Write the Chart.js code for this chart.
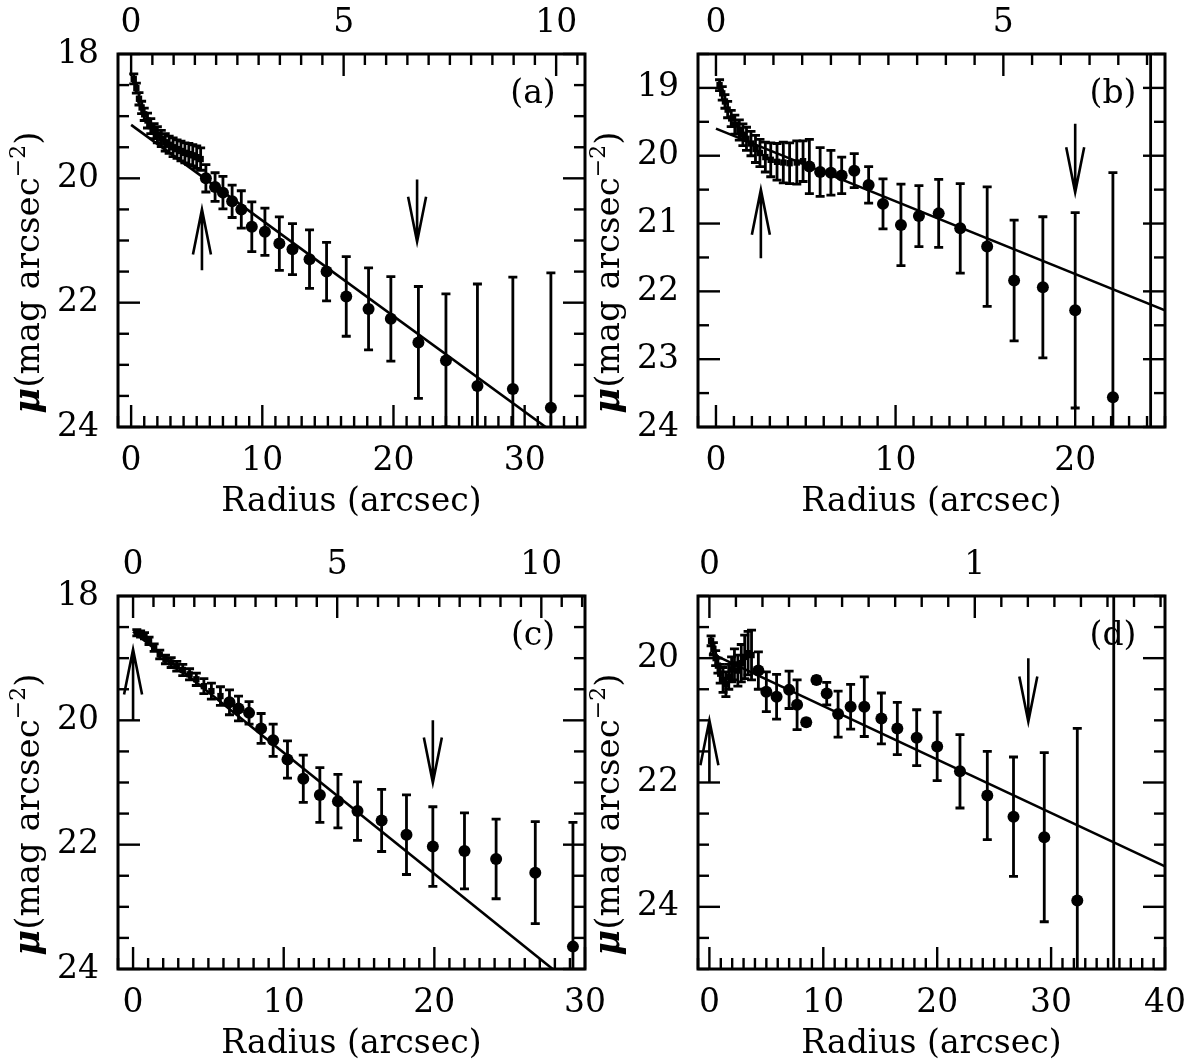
<!DOCTYPE html>
<html>
<head>
<meta charset="utf-8">
<title>Surface brightness profiles</title>
<script src="https://cdn.jsdelivr.net/npm/chart.js@4.4.0/dist/chart.umd.min.js"></script>
<style>
    html, body { margin: 0; padding: 0; background: #fff; width: 1189px; height: 1062px; overflow: hidden; }
    .panel { position: absolute; width: 610px; height: 531px; }
</style>
</head>
<body>
<div class="panel" style="left:0;top:0"><canvas id="panelA" width="610" height="531"></canvas></div>
<div class="panel" style="left:580px;top:0"><canvas id="panelB" width="610" height="531"></canvas></div>
<div class="panel" style="left:0;top:542px"><canvas id="panelC" width="610" height="531"></canvas></div>
<div class="panel" style="left:580px;top:542px"><canvas id="panelD" width="610" height="531"></canvas></div>
<script>
// ── panel (a) ────────────────────────────────────────────────────────────────
const radiusA = [0.2, 0.4, 0.6, 0.8, 1.0, 1.25, 1.5, 1.75, 2.0, 2.3, 2.6, 2.9, 3.2, 3.5, 3.8, 4.1, 4.4, 4.7, 5.0, 5.3,
    5.7, 6.4, 7.0, 7.7, 8.4, 9.2, 10.2, 11.3, 12.3, 13.6, 14.9, 16.4, 18.1, 19.8, 21.9, 24.0, 26.4, 29.1, 32.0];
const muA = [18.40, 18.55, 18.72, 18.86, 18.97, 19.07, 19.16, 19.24, 19.30, 19.36, 19.42, 19.46, 19.50, 19.53, 19.56, 19.59, 19.61, 19.63, 19.66, 19.69,
    20.00, 20.14, 20.23, 20.37, 20.50, 20.78, 20.86, 21.05, 21.14, 21.30, 21.50, 21.90, 22.10, 22.26, 22.64, 22.93, 23.34, 23.39, 23.69];
const errA = [0.08, 0.08, 0.10, 0.10, 0.10, 0.12, 0.12, 0.12, 0.13, 0.13, 0.14, 0.14, 0.15, 0.15, 0.16, 0.16, 0.17, 0.17, 0.18, 0.18,
    0.22, 0.23, 0.26, 0.26, 0.30, 0.40, 0.38, 0.43, 0.41, 0.47, 0.47, 0.64, 0.66, 0.68, 0.90, 1.07, 1.64, 1.80, 2.17];
const fitRadiusA = [0, 31.6];
const fitMuA = [19.14, 24.0];
const arrowsA = [[5.4, 21.48, 20.5], [21.8, 20.02, 21.02]];   // radius, tail, tip
const xTicksA = [0, 10, 20, 30];
const kpcTicksA = [0, 5, 10];
const yTicksA = [18, 20, 22, 24];

// ── panel (b) ────────────────────────────────────────────────────────────────
const radiusB = [0.2, 0.35, 0.5, 0.65, 0.85, 1.05, 1.3, 1.5, 1.7, 1.95, 2.2, 2.45, 2.75, 3.05, 3.4, 3.75, 4.1, 4.5, 4.85,
    5.2, 5.8, 6.4, 7.0, 7.7, 8.5, 9.3, 10.3, 11.3, 12.4, 13.6, 15.1, 16.6, 18.2, 20.0, 22.1, 24.2];
const muB = [18.96, 19.08, 19.20, 19.32, 19.45, 19.54, 19.62, 19.69, 19.75, 19.82, 19.90, 19.96, 20.02, 20.06, 20.09, 20.10, 20.11, 20.10, 20.08,
    20.16, 20.24, 20.25, 20.29, 20.22, 20.43, 20.71, 21.02, 20.89, 20.85, 21.07, 21.34, 21.84, 21.94, 22.28, 23.56, 25.2];
const errB = [0.08, 0.10, 0.10, 0.12, 0.12, 0.14, 0.15, 0.16, 0.17, 0.18, 0.20, 0.20, 0.22, 0.25, 0.27, 0.30, 0.30, 0.32, 0.30,
    0.40, 0.36, 0.33, 0.27, 0.25, 0.27, 0.37, 0.60, 0.45, 0.50, 0.66, 0.88, 0.89, 1.04, 1.44, 3.31, 7.0];
const fitRadiusB = [0, 25];
const fitMuB = [19.6, 22.28];
const arrowsB = [[2.5, 21.51, 20.5], [20.0, 19.53, 20.54]];
const xTicksB = [0, 10, 20];
const kpcTicksB = [0, 5];
const yTicksB = [19, 20, 21, 22, 23, 24];

// ── panel (c) ────────────────────────────────────────────────────────────────
const radiusC = [0.25, 0.5, 0.76, 1.06, 1.4, 1.77, 2.15, 2.53, 2.9, 3.3, 3.75, 4.2, 4.7, 5.2, 5.8,
    6.4, 7.0, 7.7, 8.5, 9.3, 10.25, 11.3, 12.4, 13.6, 14.9, 16.5, 18.15, 19.9, 22.0, 24.1, 26.7, 29.2];
const muC = [18.59, 18.61, 18.64, 18.72, 18.83, 18.94, 19.02, 19.07, 19.13, 19.19, 19.26, 19.34, 19.45, 19.53, 19.61,
    19.71, 19.81, 19.88, 20.13, 20.32, 20.63, 20.94, 21.20, 21.30, 21.46, 21.61, 21.84, 22.03, 22.10, 22.23, 22.45, 23.64];
const errC = [0.05, 0.05, 0.05, 0.06, 0.06, 0.07, 0.07, 0.08, 0.08, 0.09, 0.09, 0.10, 0.12, 0.13, 0.15,
    0.20, 0.20, 0.18, 0.24, 0.26, 0.30, 0.38, 0.44, 0.43, 0.47, 0.50, 0.64, 0.64, 0.61, 0.64, 0.82, 2.00];
const fitRadiusC = [0, 27.85];
const fitMuC = [18.57, 24.0];
const arrowsC = [[0.0, 20.0, 18.86], [19.9, 20.0, 21.0]];
const xTicksC = [0, 10, 20, 30];
const kpcTicksC = [0, 5, 10];
const yTicksC = [18, 20, 22, 24];

// ── panel (d) ────────────────────────────────────────────────────────────────
const radiusD = [0.15, 0.35, 0.55, 0.75, 0.95, 1.2, 1.45, 1.7, 1.95, 2.2, 2.5, 2.8, 3.1, 3.4, 3.7,
    4.3, 5.0, 5.9, 7.0, 7.7, 8.5, 9.4, 10.3, 11.3, 12.4, 13.6, 15.1, 16.5, 18.2, 20.0, 22.0, 24.4, 26.7, 29.4, 32.3, 35.5];
const muD = [19.72, 19.85, 20.00, 20.12, 20.25, 20.35, 20.42, 20.30, 20.18, 20.10, 20.20, 20.08, 19.98, 19.92, 19.95,
    20.20, 20.54, 20.62, 20.51, 20.75, 21.03, 20.35, 20.57, 20.90, 20.78, 20.78, 20.97, 21.13, 21.28, 21.42, 21.82, 22.21, 22.55, 22.88, 23.90, 26.0];
const errD = [0.08, 0.10, 0.12, 0.12, 0.15, 0.20, 0.20, 0.20, 0.20, 0.25, 0.25, 0.30, 0.35, 0.35, 0.40,
    0.30, 0.32, 0.36, 0.30, 0.40, 0.05, 0.05, 0.18, 0.37, 0.36, 0.48, 0.41, 0.42, 0.45, 0.55, 0.59, 0.71, 0.96, 1.36, 2.77, 8.0];
const fitRadiusD = [0, 40];
const fitMuD = [19.91, 23.35];
const arrowsD = [[0.0, 22.0, 21.0], [28.0, 20.0, 21.02]];
const xTicksD = [0, 10, 20, 30, 40];
const kpcTicksD = [0, 1];
const yTicksD = [20, 22, 24];

// ── global style ─────────────────────────────────────────────────────────────
const SERIF = "'DejaVu Serif', 'Liberation Serif', serif";
Chart.defaults.color = "#000";
Chart.defaults.font.family = SERIF;
Chart.defaults.font.size = 33;

// fix an axis box size so every panel gets the same plot frame
function fixBox(prop, size) {
    return scale => {
        scale[prop] = size;
        scale.paddingLeft = scale.paddingRight = scale.paddingTop = scale.paddingBottom = 0;
    };
}

// inward pgplot-style ticks along one edge
function edgeTicks(ctx, scale, minor, major, fixed, dir, horizontal) {
    const n0 = Math.ceil(scale.min / minor - 1e-6), n1 = Math.floor(scale.max / minor + 1e-6);
    for (let n = n0; n <= n1; n++) {
        const v = n * minor;
        const isMajor = Math.abs(v / major - Math.round(v / major)) < 1e-6;
        const len = isMajor ? 22 : 11;
        const p = scale.getPixelForValue(v);
        ctx.beginPath();
        if (horizontal) { ctx.moveTo(p, fixed); ctx.lineTo(p, fixed + dir * len); }
        else { ctx.moveTo(fixed, p); ctx.lineTo(fixed + dir * len, p); }
        ctx.stroke();
    }
}

// rotated y title: bold italic mu and a real superscript
function drawYTitle(ctx, cx, cy) {
    const parts = [
        { text: "μ", font: "italic bold 35px " + SERIF, dy: 0 },
        { text: "(mag arcsec", font: "34px " + SERIF, dy: 0 },
        { text: "−2", font: "22px " + SERIF, dy: -14 },
        { text: ")", font: "34px " + SERIF, dy: 0 },
    ];
    ctx.save();
    ctx.translate(cx, cy);
    ctx.rotate(-Math.PI / 2);
    ctx.fillStyle = "#000";
    ctx.textAlign = "left";
    ctx.textBaseline = "alphabetic";
    let total = 0;
    parts.forEach(pt => { ctx.font = pt.font; pt.w = ctx.measureText(pt.text).width; total += pt.w; });
    let xx = -total / 2;
    parts.forEach(pt => {
        ctx.font = pt.font;
        ctx.fillText(pt.text, xx, 12 + pt.dy);
        xx += pt.w;
    });
    ctx.restore();
}

function profilePlugin(p) {
    return {
        id: "profile" + p.label,
        beforeDatasetsDraw(chart) {
            const { ctx, chartArea: a, scales: { x, y } } = chart;
            ctx.save();
            ctx.beginPath();
            ctx.rect(a.left, a.top, a.right - a.left, a.bottom - a.top);
            ctx.clip();
            ctx.strokeStyle = "#000";
            ctx.lineWidth = 2.8;
            p.radius.forEach((r, i) => {
                const px = x.getPixelForValue(r);
                const y1 = y.getPixelForValue(p.mu[i] - p.err[i]);
                const y2 = y.getPixelForValue(p.mu[i] + p.err[i]);
                ctx.beginPath();
                ctx.moveTo(px, y1); ctx.lineTo(px, y2);
                ctx.moveTo(px - 4.5, y1); ctx.lineTo(px + 4.5, y1);
                ctx.moveTo(px - 4.5, y2); ctx.lineTo(px + 4.5, y2);
                ctx.stroke();
            });
            ctx.restore();
        },
        afterDraw(chart) {
            const { ctx, chartArea: a, scales: { x, y, xTop } } = chart;
            ctx.save();
            ctx.strokeStyle = "#000";
            ctx.lineCap = "butt";
            // ticks
            ctx.lineWidth = 2.4;
            edgeTicks(ctx, x, 1, p.xMajor, a.bottom, -1, true);
            edgeTicks(ctx, xTop, p.kpcMinor, p.kpcMajor, a.top, 1, true);
            edgeTicks(ctx, y, 0.5, p.yMajor, a.left, 1, false);
            edgeTicks(ctx, y, 0.5, p.yMajor, a.right, -1, false);
            // frame
            ctx.lineWidth = 3;
            ctx.strokeRect(a.left, a.top, a.right - a.left, a.bottom - a.top);
            // arrows
            ctx.lineWidth = 2.6;
            p.arrows.forEach(([r, from, to]) => {
                const px = x.getPixelForValue(r);
                const p1 = y.getPixelForValue(from), p2 = y.getPixelForValue(to);
                const dir = Math.sign(p2 - p1);
                ctx.beginPath();
                ctx.moveTo(px, p1); ctx.lineTo(px, p2);
                ctx.moveTo(px - 9, p2 - dir * 45); ctx.lineTo(px, p2); ctx.lineTo(px + 9, p2 - dir * 45);
                ctx.stroke();
            });
            // panel letter
            ctx.fillStyle = "#000";
            ctx.font = "33px " + SERIF;
            ctx.textAlign = "center";
            ctx.textBaseline = "middle";
            ctx.fillText("(" + p.label + ")", a.right - 52, a.top + 40);
            ctx.restore();
            drawYTitle(ctx, a.left - 91, (a.top + a.bottom) / 2 + 32);
        },
    };
}

function buildProfile(canvasId, p) {
    const ctx = document.getElementById(canvasId).getContext("2d");
    return new Chart(ctx, {
        type: "scatter",
        data: {
            datasets: [
                {
                    data: p.radius.map((r, i) => ({ x: r, y: p.mu[i] })),
                    backgroundColor: "#000",
                    borderColor: "#000",
                    borderWidth: 0,
                    pointStyle: c => (c.raw && c.raw.x < p.innerCut ? "rect" : "circle"),
                    pointRadius: c => (c.raw && c.raw.x < p.innerCut ? 4.5 : 6),
                },
                {
                    data: p.fitRadius.map((r, i) => ({ x: r, y: p.fitMu[i] })),
                    showLine: true,
                    borderColor: "#000",
                    borderWidth: 2.6,
                    pointRadius: 0,
                },
            ],
        },
        options: {
            responsive: false,
            animation: false,
            layout: { padding: 0 },
            plugins: { legend: { display: false }, tooltip: { enabled: false } },
            scales: {
                x: {
                    type: "linear", position: "bottom", min: p.xMin, max: p.xMax,
                    grid: { display: false, drawTicks: false }, border: { display: false },
                    ticks: { padding: 15, maxRotation: 0, autoSkip: false },
                    afterBuildTicks: s => { s.ticks = p.xTicks.map(v => ({ value: v })); },
                    title: { display: true, text: "Radius (arcsec)", padding: { top: 0, bottom: 9 } },
                    afterFit: fixBox("height", 104),
                },
                xTop: {
                    type: "linear", position: "top", min: p.xMin / p.kpc, max: p.xMax / p.kpc,
                    grid: { display: false, drawTicks: false }, border: { display: false },
                    ticks: { padding: 11, maxRotation: 0, autoSkip: false },
                    afterBuildTicks: s => { s.ticks = p.kpcTicks.map(v => ({ value: v })); },
                    afterFit: fixBox("height", 54),
                },
                y: {
                    type: "linear", position: "left", min: p.yMin, max: p.yMax, reverse: true,
                    grid: { display: false, drawTicks: false }, border: { display: false },
                    ticks: { padding: 19, autoSkip: false },
                    afterBuildTicks: s => { s.ticks = p.yTicks.map(v => ({ value: v })); },
                    afterFit: fixBox("width", 118),
                },
                yRight: {
                    type: "linear", position: "right", min: p.yMin, max: p.yMax, reverse: true,
                    grid: { display: false, drawTicks: false }, border: { display: false },
                    ticks: { display: false },
                    afterFit: fixBox("width", 25),
                },
            },
        },
        plugins: [profilePlugin(p)],
    });
}

buildProfile("panelA", {
    label: "a", radius: radiusA, mu: muA, err: errA, fitRadius: fitRadiusA, fitMu: fitMuA, arrows: arrowsA,
    xTicks: xTicksA, kpcTicks: kpcTicksA, yTicks: yTicksA,
    xMin: -1, xMax: 34.6, yMin: 18, yMax: 24, kpc: 3.24,
    xMajor: 10, kpcMinor: 0.5, kpcMajor: 5, yMajor: 2, innerCut: 5.5,
});
buildProfile("panelB", {
    label: "b", radius: radiusB, mu: muB, err: errB, fitRadius: fitRadiusB, fitMu: fitMuB, arrows: arrowsB,
    xTicks: xTicksB, kpcTicks: kpcTicksB, yTicks: yTicksB,
    xMin: -1, xMax: 25, yMin: 18.5, yMax: 24, kpc: 3.2,
    xMajor: 10, kpcMinor: 0.5, kpcMajor: 5, yMajor: 1, innerCut: 5.0,
});
buildProfile("panelC", {
    label: "c", radius: radiusC, mu: muC, err: errC, fitRadius: fitRadiusC, fitMu: fitMuC, arrows: arrowsC,
    xTicks: xTicksC, kpcTicks: kpcTicksC, yTicks: yTicksC,
    xMin: -1, xMax: 30, yMin: 18, yMax: 24, kpc: 2.71,
    xMajor: 10, kpcMinor: 0.5, kpcMajor: 5, yMajor: 2, innerCut: 6.1,
});
buildProfile("panelD", {
    label: "d", radius: radiusD, mu: muD, err: errD, fitRadius: fitRadiusD, fitMu: fitMuD, arrows: arrowsD,
    xTicks: xTicksD, kpcTicks: kpcTicksD, yTicks: yTicksD,
    xMin: -1, xMax: 40, yMin: 19, yMax: 25, kpc: 23.3,
    xMajor: 10, kpcMinor: 0.1, kpcMajor: 1, yMajor: 2, innerCut: 4.0,
});
</script>
</body>
</html>
